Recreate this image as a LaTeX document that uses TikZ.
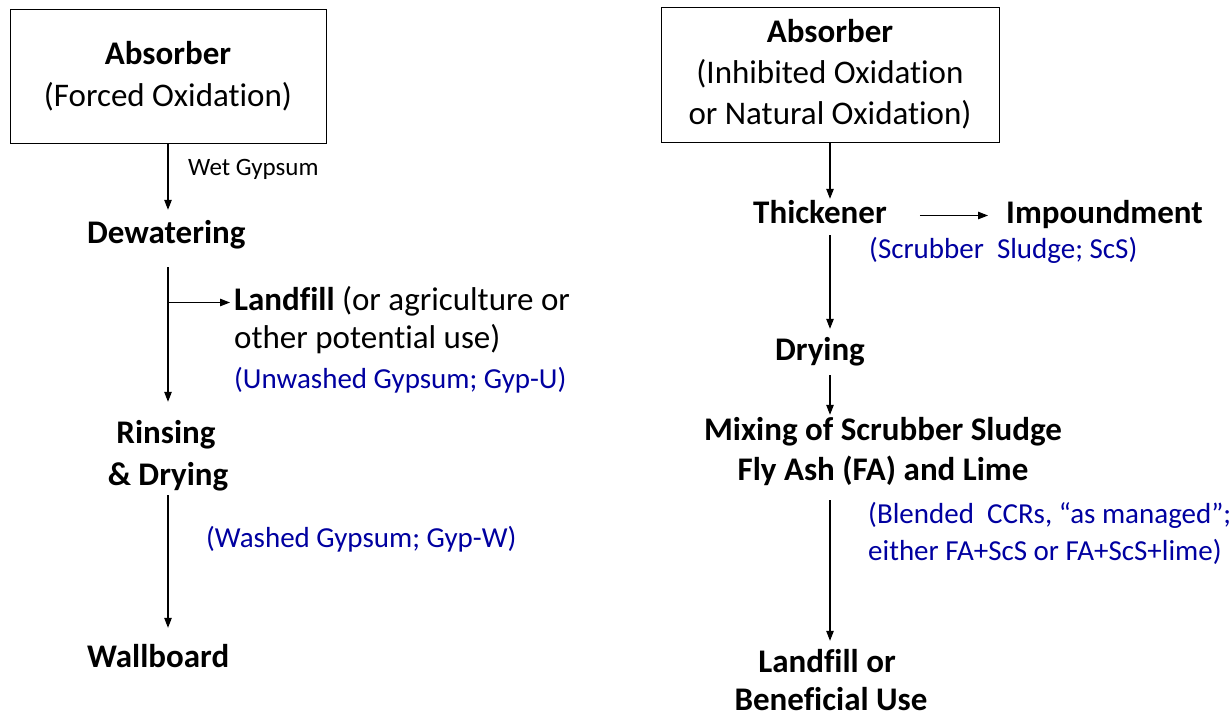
\documentclass[tikz,border=0pt]{standalone}
\usepackage{fontspec}
\setmainfont{Carlito}[Ligatures={NoCommon}]
\usetikzlibrary{arrows.meta}
\definecolor{noteblue}{RGB}{0,0,160}
\begin{document}
\begin{tikzpicture}[x=1pt,y=-1pt,
  big/.style={font=\fontsize{33}{40}\selectfont, inner sep=0pt, text height=22pt, text depth=7pt},
  bigb/.style={big, font=\fontsize{33}{40}\selectfont\bfseries},
  note/.style={font=\fontsize{29}{37}\selectfont, text=noteblue, inner sep=0pt, text height=19pt, text depth=6pt},
  boxed/.style={draw, line width=1pt, font=\fontsize{33}{41}\selectfont, align=center, inner sep=0pt},
  arr/.style={-{Triangle[length=10pt,width=7.5pt]}, line width=1.1pt}]
\useasboundingbox (0,0) rectangle (1230,716);

% ---------- left chain ----------
\node[boxed, minimum width=316pt, minimum height=134pt] (boxL) at (168,76)
  {\textbf{Absorber}\\[1pt](Forced Oxidation)};
\node[font=\fontsize{25}{30}\selectfont, inner sep=0pt, anchor=base west] (wet) at (188,175) {Wet Gypsum};
\node[bigb, anchor=base west] (dew) at (87,243) {Dewatering};
\node[big, anchor=base west] (land1) at (234,310) {\textbf{Landfill} (or agriculture or};
\node[big, anchor=base west] (land2) at (234,348) {other potential use)};
\node[note, anchor=base west] (gypU) at (234,388) {(Unwashed Gypsum; Gyp-U)};
\node[bigb, anchor=base] (rinse1) at (166,443) {Rinsing};
\node[bigb, anchor=base] (rinse2) at (168,485) {\& Drying};
\node[note, anchor=base west] (gypW) at (206,547) {(Washed Gypsum; Gyp-W)};
\node[bigb, anchor=base west] (wall) at (87,667) {Wallboard};

\draw[arr, shorten >=11pt] (boxL.south) -- (boxL.south |- dew.north);
\draw[arr, shorten <=17pt, shorten >=19pt] (boxL.south |- dew.south) -- (boxL.south |- rinse1.north);
\draw[arr, shorten >=4pt] (boxL.south |- land1.west) -- (land1.west);
\draw[arr, shorten <=3pt, shorten >=17pt] (boxL.south |- rinse2.south) -- (boxL.south |- wall.north);

% ---------- right chain ----------
\node[boxed, minimum width=338pt, minimum height=135pt] (boxR) at (830,74.5)
  {\textbf{Absorber}\\(Inhibited Oxidation\\or Natural Oxidation)};
\node[bigb, anchor=base] (thick) at (820,223) {Thickener};
\node[bigb, anchor=base west] (imp) at (1006,223) {Impoundment};
\node[note, anchor=base west] (scs) at (869,258) {(Scrubber\ \ Sludge; ScS)};
\node[bigb, anchor=base] (dry) at (820,360) {Drying};
\node[bigb, anchor=base] (mix1) at (883,440) {Mixing of Scrubber Sludge};
\node[bigb, anchor=base] (mix2) at (883,480) {Fly Ash (FA) and Lime};
\node[note, anchor=base west] (bl1) at (868,523) {(Blended\ \ CCRs, “as managed”;};
\node[note, anchor=base west] (bl2) at (868,560) {either FA+ScS or FA+ScS+lime)};
\node[bigb, anchor=base] (lf1) at (827,672) {Landfill or};
\node[bigb, anchor=base, text depth=0pt] (lf2) at (831,710) {Beneficial Use};

\draw[arr, shorten >=2pt] (boxR.south) -- (boxR.south |- thick.north);
\draw[arr, shorten <=33pt, shorten >=18pt] (thick.east) -- (thick.east -| imp.west);
\draw[arr, shorten <=5pt, shorten >=9pt] (boxR.south |- thick.south) -- (boxR.south |- dry.north);
\draw[arr, shorten <=8pt, shorten >=3pt] (boxR.south |- dry.south) -- (boxR.south |- mix1.north);
\draw[arr, shorten <=13pt, shorten >=9pt] (boxR.south |- mix2.south) -- (boxR.south |- lf1.north);
\end{tikzpicture}
\end{document}
